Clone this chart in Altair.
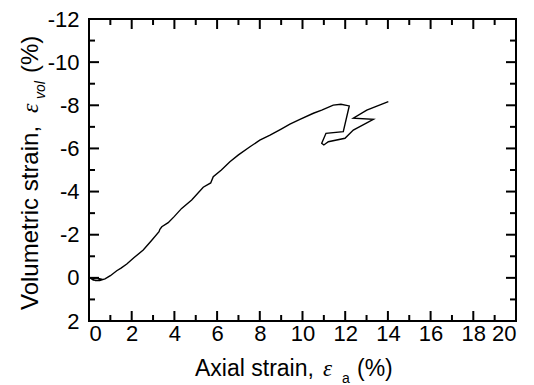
import altair as alt
import pandas as pd

# Curve (axial strain %, volumetric strain %)
axial = [0.05, 0.2, 0.4, 0.55, 0.35, 0.15, 0.3, 0.5, 0.75, 1.0, 1.3, 1.5, 1.77, 2.1, 2.54, 2.9,
         3.28, 3.32, 3.41, 3.71, 4.0, 4.34, 4.81, 5.35, 5.7, 5.82, 6.2, 6.6, 7.0, 7.54, 8.0,
         8.48, 9.0, 9.41, 9.88, 10.51, 10.9, 11.44, 11.8, 12.19, 11.91, 11.10, 10.90, 11.0,
         11.21, 11.99, 12.38, 13.32, 12.38, 13.01, 14.02]
volumetric = [0.0, 0.1, 0.12, 0.05, 0.0, 0.05, 0.13, 0.12, 0.05, -0.1, -0.33, -0.45, -0.64, -0.93,
              -1.29, -1.7, -2.14, -2.25, -2.37, -2.56, -2.85, -3.22, -3.61, -4.2, -4.4, -4.69,
              -5.0, -5.38, -5.7, -6.08, -6.38, -6.62, -6.9, -7.13, -7.35, -7.63, -7.78, -8.01,
              -8.05, -7.97, -6.78, -6.70, -6.24, -6.16, -6.31, -6.47, -6.85, -7.35, -7.40,
              -7.78, -8.17]

x_major = [0, 2, 4, 6, 8, 10, 12, 14, 16, 18, 20]
x_minor = [1, 3, 5, 7, 9, 11, 13, 15, 17, 19]
y_major = [-12, -10, -8, -6, -4, -2, 0, 2]
y_minor = [-11, -9, -7, -5, -3, -1, 1]

W, H = 427, 302
FONT = "Liberation Sans"

df = pd.DataFrame({"x": axial, "y": volumetric, "i": list(range(len(axial)))})

xs = alt.Scale(domain=[0, 20], nice=False, zero=False)
ys = alt.Scale(domain=[-12, 2], nice=False, zero=False, reverse=True)
xax = alt.Axis(values=x_major, ticks=False, domain=False, grid=False,
               labelFont=FONT, labelFontSize=22, labelColor="black",
               labelPadding=2, title="")
yax = alt.Axis(values=y_major, ticks=False, domain=False, grid=False,
               labelFont=FONT, labelFontSize=22, labelColor="black",
               labelPadding=10, title="", labelExpr="'' + datum.value")

line = alt.Chart(df).mark_line(color="black", strokeWidth=1.4).encode(
    x=alt.X("x:Q", scale=xs, axis=xax),
    y=alt.Y("y:Q", scale=ys, axis=yax),
    order="i:Q",
)

dxM = pd.DataFrame({"x": x_major})
dxm = pd.DataFrame({"x": x_minor})
dyM = pd.DataFrame({"y": y_major})
dym = pd.DataFrame({"y": y_minor})

def xt(d, y0, y1):
    return alt.Chart(d).mark_rule(color="black", strokeWidth=2).encode(
        x=alt.X("x:Q", scale=xs, axis=xax), y=alt.value(y0), y2=alt.value(y1))

def yt(d, x0, x1):
    return alt.Chart(d).mark_rule(color="black", strokeWidth=2).encode(
        y=alt.Y("y:Q", scale=ys, axis=yax), x=alt.value(x0), x2=alt.value(x1))

ticks = [
    xt(dxM, H, H - 10), xt(dxm, H, H - 6), xt(dxM, 0, 10), xt(dxm, 0, 6),
    yt(dyM, 0, 10), yt(dym, 0, 6), yt(dyM, W, W - 10), yt(dym, W, W - 6),
]

def txt(s, x, y, size, font=FONT, style="normal", angle=0):
    return alt.Chart(alt.Data(values=[{}])).mark_text(
        text=s, font=font, fontSize=size, fontStyle=style, angle=angle,
        align="left", baseline="alphabetic", color="black").encode(
        x=alt.value(x), y=alt.value(y))

titles = [
    txt("Axial strain,", 106, 357, 23),
    txt("ε", 234, 357, 23, font="Liberation Serif", style="italic"),
    txt("a", 253, 364, 14),
    txt("(%)", 268, 357, 23),
    txt("Volumetric strain,", -51, 291, 24, angle=270),
    txt("ε", -51, 94, 24, font="Liberation Serif", style="italic", angle=270),
    txt("vol", -44, 80, 14, style="italic", angle=270),
    txt("(%)", -51, 54, 24, angle=270),
]

chart = alt.layer(line, *ticks, *titles).properties(
    width=W, height=H,
    autosize=alt.AutoSizeParams(type="none"),
    padding={"left": 81, "top": 11, "right": 10, "bottom": 70},
).configure_view(stroke="black", strokeWidth=2)

chart.save("out.html", embed_options={"renderer": "svg", "actions": False})
